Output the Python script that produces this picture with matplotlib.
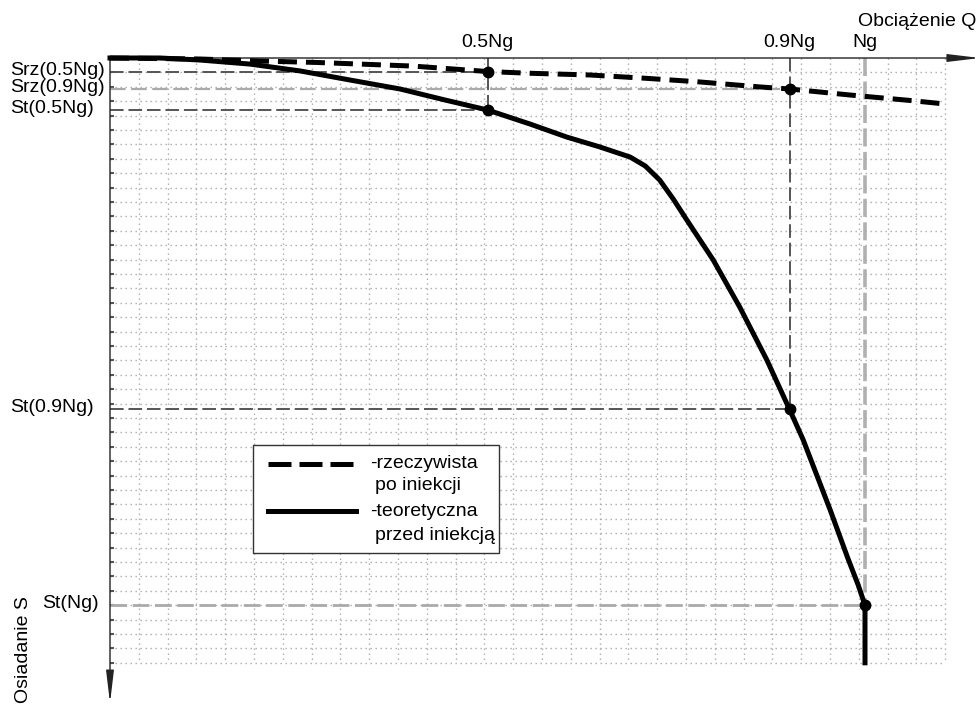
import numpy as np
import matplotlib
matplotlib.use("Agg")
import matplotlib.pyplot as plt
import matplotlib.transforms as mtransforms
from matplotlib.lines import Line2D
from matplotlib.patches import Rectangle

plt.rcParams['font.family'] = ['Liberation Sans', 'DejaVu Sans']

# load as a fraction of Ng, settlement in grid units
# curve after injection (dashed)
q_rz = [0.0, 0.119, 0.199, 0.274, 0.401, 0.472, 0.5, 0.556, 0.636, 0.71,
        0.778, 0.861, 0.9, 0.98, 1.06, 1.107]
s_rz = [0.0, 0.07, 0.21, 0.31, 0.56, 0.83, 0.94, 1.06, 1.18, 1.41,
        1.65, 2.01, 2.15, 2.57, 2.95, 3.2]

# theoretical curve before injection (solid)
q_t = [0.0, 0.066, 0.119, 0.185, 0.252, 0.318, 0.384, 0.444, 0.5, 0.556,
       0.605, 0.649, 0.689, 0.709, 0.728, 0.746, 0.764, 0.799, 0.834,
       0.870, 0.9, 0.918, 0.954, 0.977, 0.991, 1.0, 1.0]
s_t = [0.0, 0.0, 0.14, 0.42, 0.9, 1.53, 2.15, 2.92, 3.61, 4.58,
       5.49, 6.18, 6.88, 7.5, 8.47, 9.79, 11.25, 14.03, 17.29,
       20.97, 24.4, 26.5, 31.4, 34.7, 36.6, 38.0, 42.0]

# characteristic points
q_rz_pts = [0.5, 0.9]
s_rz_pts = [0.94, 2.15]
rz_labels = ['Srz(0.5Ng)', 'Srz(0.9Ng)']
q_t_pts = [0.5, 0.9, 1.0]
s_t_pts = [3.61, 24.4, 38.0]
t_labels = ['St(0.5Ng)', 'St(0.9Ng)', 'St(Ng)']
load_labels = ['0.5Ng', '0.9Ng', 'Ng']

W, H = 980, 709
fig = plt.figure(figsize=(W / 100, H / 100), dpi=100)
ax = fig.add_axes([110 / W, 0, 870 / W, 651 / H])
ax.set_xlim(0, 870 / 755)
ax.set_ylim(651 / 14.4, 0)
ax.axis('off')

def px(x, y):
    return (x / W, 1 - y / H)

# background grid
dx = 28.8 / 755
gx = np.arange(1, 30) * dx
gy = np.arange(1, 43)
grid_kw = dict(color='#aaaaaa', lw=1.0, linestyles=(0, (1, 2.6)), zorder=1)
ax.vlines(gx, 0, 42, **grid_kw)
ax.hlines(gy, 0, 29 * dx, **grid_kw)
ax.hlines(gy, 0, 0.005, color='#555555', lw=1.5, zorder=2)

# reference lines to the characteristic points
dark = dict(color='#555555', lw=1.4, linestyles=(0, (7, 2.5)), zorder=2)
light = dict(color='#aaaaaa', lw=1.6, linestyles=(0, (7, 2.5)), zorder=2)
ax.hlines(s_rz_pts[0], 0, q_rz_pts[0], **dark)
ax.hlines(s_rz_pts[1], 0, q_rz_pts[1], **light)
ax.hlines(s_t_pts[0], 0, q_t_pts[0], **dark)
ax.hlines(s_t_pts[1], 0, q_t_pts[1], **dark)
ax.hlines(s_t_pts[2], 0, q_t_pts[2], color='#aaaaaa', lw=2,
          linestyles=(0, (6, 2)), zorder=2)
ax.vlines(q_t_pts[0], 0, s_t_pts[0], **dark)
ax.vlines(q_t_pts[1], 0, s_t_pts[1], **dark)
ax.vlines(q_t_pts[2], 0, s_t_pts[2], color='#b0b0b0', lw=2.6,
          linestyles=(0, (5, 1.5)), zorder=2)

# axes with arrows
arrow = dict(arrowstyle='-|>,head_length=1.5,head_width=0.18',
             color='#222222', lw=1, mutation_scale=13, shrinkA=0, shrinkB=0)
ax.annotate('', xy=(870 / 755, 0), xytext=(0, 0), annotation_clip=False,
            arrowprops=arrow)
ax.annotate('', xy=(0, 44.8), xytext=(0, 0), annotation_clip=False,
            arrowprops=arrow)

# curves
ax.plot(q_rz, s_rz, color='black', lw=3.6, dashes=(3.8, 1.8),
        solid_capstyle='butt', zorder=4, clip_on=False)
ax.plot(q_t, s_t, color='black', lw=3.6, zorder=4, clip_on=False,
        solid_joinstyle='round')
ax.plot(q_rz_pts, s_rz_pts, 'o', color='black', ms=7.5, zorder=5)
ax.plot(q_t_pts, s_t_pts, 'o', color='black', ms=7.5, zorder=5)

fs = 14
trans = mtransforms.blended_transform_factory(fig.transFigure, ax.transData)
for s, lab in zip(s_rz_pts + s_t_pts, rz_labels + t_labels):
    x0 = 42 if lab == 'St(Ng)' else 10
    ax.text(x0 / W, s - 0.1, lab, transform=trans, ha='left', va='center',
            fontsize=fs)

for q, lab in zip(q_t_pts, load_labels):
    ax.text(q, -1.1, lab, ha='center', va='center', fontsize=fs, clip_on=False)

fig.text(*px(858, 21), 'Obciążenie Q', ha='left', va='center', fontsize=fs)
fig.text(*px(24, 650), 'Osiadanie S', ha='center', va='center',
         rotation=90, fontsize=fs)

# legend
fig.add_artist(Rectangle(px(253, 553), 246 / W, 108 / H, transform=fig.transFigure,
                         facecolor='white', edgecolor='#333333', lw=1, zorder=6))
fig.add_artist(Line2D([268 / W, 356 / W], [1 - 464 / H] * 2, transform=fig.transFigure,
                      color='black', lw=3.6, dashes=(4.6, 1.6), zorder=7))
fig.add_artist(Line2D([268 / W, 356 / W], [1 - 511 / H] * 2, transform=fig.transFigure,
                      color='black', lw=3.6, zorder=7))
leg_txt = [(370, 464, '-rzeczywista'), (375, 486, 'po iniekcji'),
           (370, 511, '-teoretyczna'), (375, 536, 'przed iniekcją')]
for x0, y0, t in leg_txt:
    fig.text(*px(x0, y0), t, ha='left', va='center', fontsize=fs, zorder=8)

fig.savefig('out.png', dpi=100)
